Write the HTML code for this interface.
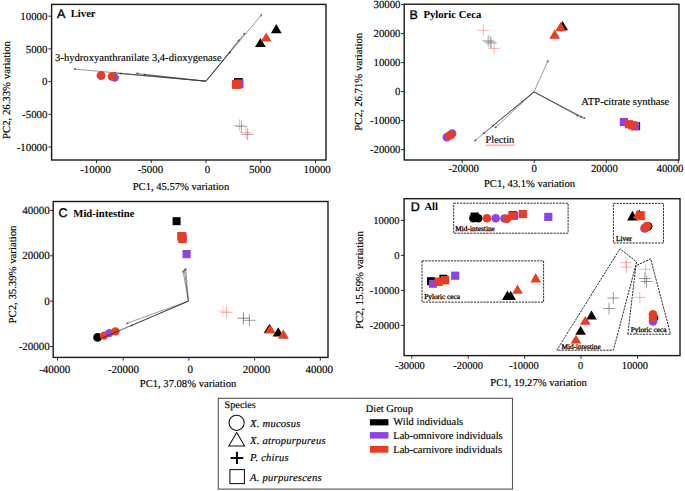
<!DOCTYPE html>
<html><head><meta charset="utf-8"><style>
html,body{margin:0;padding:0;background:#fff;width:685px;height:491px;overflow:hidden;font-family:"Liberation Serif",serif;}
svg{display:block} text{text-rendering:geometricPrecision;stroke:#000;stroke-width:0.15px}
</style></head><body>
<svg width="685" height="491" viewBox="0 0 685 491">
<rect width="685" height="491" fill="#fff"/>
<rect x="51.6" y="4.4" width="274.4" height="155.6" fill="none" stroke="#1a1a1a" stroke-width="1.4"/>
<line x1="48.4" y1="16.2" x2="51.6" y2="16.2" stroke="#1a1a1a" stroke-width="0.9"/>
<text x="47.50" y="19.80" font-family="'Liberation Serif', serif" font-size="10.9" text-anchor="end" font-weight="normal" font-style="normal" fill="#000" >10000</text>
<line x1="48.4" y1="48.900000000000006" x2="51.6" y2="48.900000000000006" stroke="#1a1a1a" stroke-width="0.9"/>
<text x="47.50" y="52.50" font-family="'Liberation Serif', serif" font-size="10.9" text-anchor="end" font-weight="normal" font-style="normal" fill="#000" >5000</text>
<line x1="48.4" y1="81.60000000000001" x2="51.6" y2="81.60000000000001" stroke="#1a1a1a" stroke-width="0.9"/>
<text x="47.50" y="85.20" font-family="'Liberation Serif', serif" font-size="10.9" text-anchor="end" font-weight="normal" font-style="normal" fill="#000" >0</text>
<line x1="48.4" y1="114.30000000000001" x2="51.6" y2="114.30000000000001" stroke="#1a1a1a" stroke-width="0.9"/>
<text x="47.50" y="117.90" font-family="'Liberation Serif', serif" font-size="10.9" text-anchor="end" font-weight="normal" font-style="normal" fill="#000" >-5000</text>
<line x1="48.4" y1="147.0" x2="51.6" y2="147.0" stroke="#1a1a1a" stroke-width="0.9"/>
<text x="47.50" y="150.60" font-family="'Liberation Serif', serif" font-size="10.9" text-anchor="end" font-weight="normal" font-style="normal" fill="#000" >-10000</text>
<line x1="96.5" y1="160.0" x2="96.5" y2="163.2" stroke="#1a1a1a" stroke-width="0.9"/>
<text x="95.60" y="172.80" font-family="'Liberation Serif', serif" font-size="10.9" text-anchor="middle" font-weight="normal" font-style="normal" fill="#000" >-10000</text>
<line x1="151.25" y1="160.0" x2="151.25" y2="163.2" stroke="#1a1a1a" stroke-width="0.9"/>
<text x="150.40" y="172.80" font-family="'Liberation Serif', serif" font-size="10.9" text-anchor="middle" font-weight="normal" font-style="normal" fill="#000" >-5000</text>
<line x1="206.0" y1="160.0" x2="206.0" y2="163.2" stroke="#1a1a1a" stroke-width="0.9"/>
<text x="207.40" y="172.80" font-family="'Liberation Serif', serif" font-size="10.9" text-anchor="middle" font-weight="normal" font-style="normal" fill="#000" >0</text>
<line x1="260.75" y1="160.0" x2="260.75" y2="163.2" stroke="#1a1a1a" stroke-width="0.9"/>
<text x="260.00" y="172.80" font-family="'Liberation Serif', serif" font-size="10.9" text-anchor="middle" font-weight="normal" font-style="normal" fill="#000" >5000</text>
<line x1="315.5" y1="160.0" x2="315.5" y2="163.2" stroke="#1a1a1a" stroke-width="0.9"/>
<text x="317.20" y="172.80" font-family="'Liberation Serif', serif" font-size="10.9" text-anchor="middle" font-weight="normal" font-style="normal" fill="#000" >10000</text>
<text x="180.95" y="190.30" font-family="'Liberation Serif', serif" font-size="10.6" text-anchor="middle" font-weight="normal" font-style="normal" fill="#000" >PC1, 45.57% variation</text>
<text x="0.00" y="0.00" font-family="'Liberation Serif', serif" font-size="10.75" text-anchor="middle" font-weight="normal" font-style="normal" fill="#000" transform="translate(9.7,90.0) rotate(-90)">PC2, 26.33% variation</text>
<rect x="404.2" y="4.2" width="274.8" height="155.8" fill="none" stroke="#1a1a1a" stroke-width="1.4"/>
<line x1="401.0" y1="4.6" x2="404.2" y2="4.6" stroke="#1a1a1a" stroke-width="0.9"/>
<text x="400.50" y="8.20" font-family="'Liberation Serif', serif" font-size="10.8" text-anchor="end" font-weight="normal" font-style="normal" fill="#000" >30000</text>
<line x1="401.0" y1="33.599999999999994" x2="404.2" y2="33.599999999999994" stroke="#1a1a1a" stroke-width="0.9"/>
<text x="400.50" y="37.20" font-family="'Liberation Serif', serif" font-size="10.8" text-anchor="end" font-weight="normal" font-style="normal" fill="#000" >20000</text>
<line x1="401.0" y1="62.599999999999994" x2="404.2" y2="62.599999999999994" stroke="#1a1a1a" stroke-width="0.9"/>
<text x="400.50" y="66.20" font-family="'Liberation Serif', serif" font-size="10.8" text-anchor="end" font-weight="normal" font-style="normal" fill="#000" >10000</text>
<line x1="401.0" y1="91.6" x2="404.2" y2="91.6" stroke="#1a1a1a" stroke-width="0.9"/>
<text x="400.50" y="95.20" font-family="'Liberation Serif', serif" font-size="10.8" text-anchor="end" font-weight="normal" font-style="normal" fill="#000" >0</text>
<line x1="401.0" y1="120.59999999999998" x2="404.2" y2="120.59999999999998" stroke="#1a1a1a" stroke-width="0.9"/>
<text x="400.50" y="124.20" font-family="'Liberation Serif', serif" font-size="10.8" text-anchor="end" font-weight="normal" font-style="normal" fill="#000" >-10000</text>
<line x1="401.0" y1="149.6" x2="404.2" y2="149.6" stroke="#1a1a1a" stroke-width="0.9"/>
<text x="400.50" y="153.20" font-family="'Liberation Serif', serif" font-size="10.8" text-anchor="end" font-weight="normal" font-style="normal" fill="#000" >-20000</text>
<line x1="462.2" y1="160.0" x2="462.2" y2="163.2" stroke="#1a1a1a" stroke-width="0.9"/>
<text x="463.70" y="172.30" font-family="'Liberation Serif', serif" font-size="10.8" text-anchor="middle" font-weight="normal" font-style="normal" fill="#000" >-20000</text>
<line x1="534.2" y1="160.0" x2="534.2" y2="163.2" stroke="#1a1a1a" stroke-width="0.9"/>
<text x="534.10" y="172.30" font-family="'Liberation Serif', serif" font-size="10.8" text-anchor="middle" font-weight="normal" font-style="normal" fill="#000" >0</text>
<line x1="606.2" y1="160.0" x2="606.2" y2="163.2" stroke="#1a1a1a" stroke-width="0.9"/>
<text x="604.40" y="172.30" font-family="'Liberation Serif', serif" font-size="10.8" text-anchor="middle" font-weight="normal" font-style="normal" fill="#000" >20000</text>
<line x1="678.2" y1="160.0" x2="678.2" y2="163.2" stroke="#1a1a1a" stroke-width="0.9"/>
<text x="670.00" y="172.30" font-family="'Liberation Serif', serif" font-size="10.8" text-anchor="middle" font-weight="normal" font-style="normal" fill="#000" >40000</text>
<text x="529.55" y="186.60" font-family="'Liberation Serif', serif" font-size="10.6" text-anchor="middle" font-weight="normal" font-style="normal" fill="#000" >PC1, 43.1% variation</text>
<text x="0.00" y="0.00" font-family="'Liberation Serif', serif" font-size="10.75" text-anchor="middle" font-weight="normal" font-style="normal" fill="#000" transform="translate(362.0,81.75) rotate(-90)">PC2, 26.71% variation</text>
<rect x="53.2" y="201.5" width="274.8" height="155.89999999999998" fill="none" stroke="#1a1a1a" stroke-width="1.4"/>
<line x1="50.0" y1="210.4" x2="53.2" y2="210.4" stroke="#1a1a1a" stroke-width="0.9"/>
<text x="49.80" y="214.00" font-family="'Liberation Serif', serif" font-size="11.0" text-anchor="end" font-weight="normal" font-style="normal" fill="#000" >40000</text>
<line x1="50.0" y1="255.8" x2="53.2" y2="255.8" stroke="#1a1a1a" stroke-width="0.9"/>
<text x="49.80" y="259.40" font-family="'Liberation Serif', serif" font-size="11.0" text-anchor="end" font-weight="normal" font-style="normal" fill="#000" >20000</text>
<line x1="50.0" y1="301.20000000000005" x2="53.2" y2="301.20000000000005" stroke="#1a1a1a" stroke-width="0.9"/>
<text x="49.80" y="304.80" font-family="'Liberation Serif', serif" font-size="11.0" text-anchor="end" font-weight="normal" font-style="normal" fill="#000" >0</text>
<line x1="50.0" y1="346.6" x2="53.2" y2="346.6" stroke="#1a1a1a" stroke-width="0.9"/>
<text x="49.80" y="350.20" font-family="'Liberation Serif', serif" font-size="11.0" text-anchor="end" font-weight="normal" font-style="normal" fill="#000" >-20000</text>
<line x1="57.5" y1="357.4" x2="57.5" y2="360.59999999999997" stroke="#1a1a1a" stroke-width="0.9"/>
<text x="54.75" y="373.30" font-family="'Liberation Serif', serif" font-size="11.0" text-anchor="middle" font-weight="normal" font-style="normal" fill="#000" >-40000</text>
<line x1="123.2" y1="357.4" x2="123.2" y2="360.59999999999997" stroke="#1a1a1a" stroke-width="0.9"/>
<text x="123.55" y="373.30" font-family="'Liberation Serif', serif" font-size="11.0" text-anchor="middle" font-weight="normal" font-style="normal" fill="#000" >-20000</text>
<line x1="188.9" y1="357.4" x2="188.9" y2="360.59999999999997" stroke="#1a1a1a" stroke-width="0.9"/>
<text x="190.20" y="373.30" font-family="'Liberation Serif', serif" font-size="11.0" text-anchor="middle" font-weight="normal" font-style="normal" fill="#000" >0</text>
<line x1="254.60000000000002" y1="357.4" x2="254.60000000000002" y2="360.59999999999997" stroke="#1a1a1a" stroke-width="0.9"/>
<text x="256.60" y="373.30" font-family="'Liberation Serif', serif" font-size="11.0" text-anchor="middle" font-weight="normal" font-style="normal" fill="#000" >20000</text>
<line x1="320.3" y1="357.4" x2="320.3" y2="360.59999999999997" stroke="#1a1a1a" stroke-width="0.9"/>
<text x="319.15" y="373.30" font-family="'Liberation Serif', serif" font-size="11.0" text-anchor="middle" font-weight="normal" font-style="normal" fill="#000" >40000</text>
<text x="188.05" y="387.30" font-family="'Liberation Serif', serif" font-size="10.6" text-anchor="middle" font-weight="normal" font-style="normal" fill="#000" >PC1, 37.08% variation</text>
<text x="0.00" y="0.00" font-family="'Liberation Serif', serif" font-size="10.75" text-anchor="middle" font-weight="normal" font-style="normal" fill="#000" transform="translate(15.7,274.55) rotate(-90)">PC2, 35.39% variation</text>
<rect x="404.1" y="198.7" width="275.9" height="156.90000000000003" fill="none" stroke="#1a1a1a" stroke-width="1.4"/>
<line x1="400.90000000000003" y1="220.4" x2="404.1" y2="220.4" stroke="#1a1a1a" stroke-width="0.9"/>
<text x="399.50" y="224.00" font-family="'Liberation Serif', serif" font-size="10.5" text-anchor="end" font-weight="normal" font-style="normal" fill="#000" >10000</text>
<line x1="400.90000000000003" y1="255.4" x2="404.1" y2="255.4" stroke="#1a1a1a" stroke-width="0.9"/>
<text x="399.50" y="259.00" font-family="'Liberation Serif', serif" font-size="10.5" text-anchor="end" font-weight="normal" font-style="normal" fill="#000" >0</text>
<line x1="400.90000000000003" y1="290.4" x2="404.1" y2="290.4" stroke="#1a1a1a" stroke-width="0.9"/>
<text x="399.50" y="294.00" font-family="'Liberation Serif', serif" font-size="10.5" text-anchor="end" font-weight="normal" font-style="normal" fill="#000" >-10000</text>
<line x1="400.90000000000003" y1="325.4" x2="404.1" y2="325.4" stroke="#1a1a1a" stroke-width="0.9"/>
<text x="399.50" y="329.00" font-family="'Liberation Serif', serif" font-size="10.5" text-anchor="end" font-weight="normal" font-style="normal" fill="#000" >-20000</text>
<line x1="411.8" y1="355.6" x2="411.8" y2="358.8" stroke="#1a1a1a" stroke-width="0.9"/>
<text x="410.00" y="368.50" font-family="'Liberation Serif', serif" font-size="10.5" text-anchor="middle" font-weight="normal" font-style="normal" fill="#000" >-30000</text>
<line x1="468.225" y1="355.6" x2="468.225" y2="358.8" stroke="#1a1a1a" stroke-width="0.9"/>
<text x="468.10" y="368.50" font-family="'Liberation Serif', serif" font-size="10.5" text-anchor="middle" font-weight="normal" font-style="normal" fill="#000" >-20000</text>
<line x1="524.65" y1="355.6" x2="524.65" y2="358.8" stroke="#1a1a1a" stroke-width="0.9"/>
<text x="524.00" y="368.50" font-family="'Liberation Serif', serif" font-size="10.5" text-anchor="middle" font-weight="normal" font-style="normal" fill="#000" >-10000</text>
<line x1="581.075" y1="355.6" x2="581.075" y2="358.8" stroke="#1a1a1a" stroke-width="0.9"/>
<text x="580.60" y="368.50" font-family="'Liberation Serif', serif" font-size="10.5" text-anchor="middle" font-weight="normal" font-style="normal" fill="#000" >0</text>
<line x1="637.5" y1="355.6" x2="637.5" y2="358.8" stroke="#1a1a1a" stroke-width="0.9"/>
<text x="634.80" y="368.50" font-family="'Liberation Serif', serif" font-size="10.5" text-anchor="middle" font-weight="normal" font-style="normal" fill="#000" >10000</text>
<text x="538.60" y="386.30" font-family="'Liberation Serif', serif" font-size="10.6" text-anchor="middle" font-weight="normal" font-style="normal" fill="#000" >PC1, 19.27% variation</text>
<text x="0.00" y="0.00" font-family="'Liberation Serif', serif" font-size="10.75" text-anchor="middle" font-weight="normal" font-style="normal" fill="#000" transform="translate(363.0,280.1) rotate(-90)">PC2, 15.59% variation</text>
<text x="57.00" y="17.80" font-family="'Liberation Sans', sans-serif" font-size="12.5" text-anchor="start" font-weight="normal" font-style="normal" fill="#000" style="stroke-width:0.38px">A</text>
<text x="70.70" y="17.10" font-family="'Liberation Serif', serif" font-size="10.7" text-anchor="start" font-weight="bold" font-style="normal" fill="#000" style="stroke:none">Liver</text>
<text x="409.50" y="19.00" font-family="'Liberation Sans', sans-serif" font-size="12.5" text-anchor="start" font-weight="normal" font-style="normal" fill="#000" style="stroke-width:0.38px">B</text>
<text x="423.40" y="18.30" font-family="'Liberation Serif', serif" font-size="10.7" text-anchor="start" font-weight="bold" font-style="normal" fill="#000" style="stroke:none">Pyloric Ceca</text>
<text x="58.40" y="217.40" font-family="'Liberation Sans', sans-serif" font-size="12.5" text-anchor="start" font-weight="normal" font-style="normal" fill="#000" style="stroke-width:0.38px">C</text>
<text x="73.30" y="216.70" font-family="'Liberation Serif', serif" font-size="10.7" text-anchor="start" font-weight="bold" font-style="normal" fill="#000" style="stroke:none">Mid-intestine</text>
<text x="410.70" y="211.00" font-family="'Liberation Sans', sans-serif" font-size="12.5" text-anchor="start" font-weight="normal" font-style="normal" fill="#000" style="stroke-width:0.38px">D</text>
<text x="424.40" y="210.30" font-family="'Liberation Serif', serif" font-size="10.7" text-anchor="start" font-weight="bold" font-style="normal" fill="#000" style="stroke:none">All</text>
<line x1="206.0" y1="81.2" x2="74" y2="69" stroke="#333" stroke-width="0.5"/>
<line x1="74" y1="69" x2="75.88" y2="70.14" stroke="#222" stroke-width="0.5"/>
<line x1="74" y1="69" x2="76.06" y2="68.23" stroke="#222" stroke-width="0.5"/>
<line x1="206.0" y1="81.2" x2="113.8" y2="72.8" stroke="#333" stroke-width="0.5"/>
<line x1="113.8" y1="72.8" x2="115.69" y2="73.93" stroke="#222" stroke-width="0.5"/>
<line x1="113.8" y1="72.8" x2="115.86" y2="72.03" stroke="#222" stroke-width="0.5"/>
<line x1="206.0" y1="81.2" x2="119.5" y2="73.5" stroke="#333" stroke-width="0.5"/>
<line x1="119.5" y1="73.5" x2="121.39" y2="74.63" stroke="#222" stroke-width="0.5"/>
<line x1="119.5" y1="73.5" x2="121.56" y2="72.72" stroke="#222" stroke-width="0.5"/>
<line x1="206.0" y1="81.2" x2="136.4" y2="73.3" stroke="#333" stroke-width="0.5"/>
<line x1="136.4" y1="73.3" x2="138.26" y2="74.47" stroke="#222" stroke-width="0.5"/>
<line x1="136.4" y1="73.3" x2="138.48" y2="72.57" stroke="#222" stroke-width="0.5"/>
<line x1="206.0" y1="81.2" x2="143.7" y2="74.6" stroke="#333" stroke-width="0.5"/>
<line x1="143.7" y1="74.6" x2="145.57" y2="75.76" stroke="#222" stroke-width="0.5"/>
<line x1="143.7" y1="74.6" x2="145.77" y2="73.86" stroke="#222" stroke-width="0.5"/>
<line x1="206.0" y1="81.2" x2="261.8" y2="14.5" stroke="#333" stroke-width="0.5"/>
<line x1="261.8" y1="14.5" x2="259.79" y2="15.41" stroke="#222" stroke-width="0.5"/>
<line x1="261.8" y1="14.5" x2="261.26" y2="16.63" stroke="#222" stroke-width="0.5"/>
<line x1="206.0" y1="81.2" x2="239.5" y2="39.6" stroke="#333" stroke-width="0.5"/>
<line x1="239.5" y1="39.6" x2="237.51" y2="40.54" stroke="#222" stroke-width="0.5"/>
<line x1="239.5" y1="39.6" x2="239.00" y2="41.74" stroke="#222" stroke-width="0.5"/>
<line x1="206.0" y1="81.2" x2="230.3" y2="51.7" stroke="#333" stroke-width="0.5"/>
<line x1="230.3" y1="51.7" x2="228.30" y2="52.62" stroke="#222" stroke-width="0.5"/>
<line x1="230.3" y1="51.7" x2="229.78" y2="53.84" stroke="#222" stroke-width="0.5"/>
<line x1="206.0" y1="81.2" x2="245" y2="33" stroke="#333" stroke-width="0.5"/>
<line x1="245" y1="33" x2="243.01" y2="33.94" stroke="#222" stroke-width="0.5"/>
<line x1="245" y1="33" x2="244.50" y2="35.14" stroke="#222" stroke-width="0.5"/>
<text x="55.10" y="61.00" font-family="'Liberation Serif', serif" font-size="10.6" text-anchor="start" font-weight="normal" font-style="normal" fill="#000" >3-hydroxyanthranilate 3,4-dioxygenase</text>
<circle cx="100.8" cy="75.5" r="4.25" fill="#8c44e4"/>
<circle cx="101.3" cy="75.5" r="4.25" fill="#e83d25"/>
<circle cx="114.7" cy="77.5" r="4.25" fill="#8c44e4"/>
<circle cx="111.9" cy="76.6" r="4.25" fill="#e83d25"/>
<rect x="234.00" y="78.10" width="8.8" height="8.8" fill="#000000"/>
<rect x="234.90" y="79.50" width="8.6" height="8.6" fill="#8c44e4"/>
<rect x="231.95" y="80.00" width="8.9" height="8.9" fill="#e83d25"/>
<rect x="233.50" y="79.80" width="8.6" height="8.6" fill="#e83d25"/>
<polygon points="260.40,37.90 255.00,47.10 265.80,47.10" fill="#000000"/>
<polygon points="276.30,24.00 270.90,33.20 281.70,33.20" fill="#000000"/>
<polygon points="266.20,32.40 260.80,41.60 271.60,41.60" fill="#e83d25"/>
<path d="M233.40 125.30H245.20M239.30 119.40V131.20" stroke="#f07060" stroke-width="1.0" opacity="0.5" fill="none"/>
<path d="M235.50 126.50H247.30M241.40 120.60V132.40" stroke="#555" stroke-width="1.0" opacity="0.5" fill="none"/>
<path d="M240.10 132.70H251.90M246.00 126.80V138.60" stroke="#f07060" stroke-width="1.0" opacity="0.5" fill="none"/>
<path d="M241.80 134.40H253.60M247.70 128.50V140.30" stroke="#555" stroke-width="1.0" opacity="0.5" fill="none"/>
<line x1="534.0" y1="91.9" x2="548.2" y2="60.3" stroke="#333" stroke-width="0.5"/>
<line x1="548.2" y1="60.3" x2="546.52" y2="61.71" stroke="#222" stroke-width="0.5"/>
<line x1="548.2" y1="60.3" x2="548.26" y2="62.50" stroke="#222" stroke-width="0.5"/>
<line x1="534.0" y1="91.9" x2="585.2" y2="118.5" stroke="#333" stroke-width="0.5"/>
<line x1="585.2" y1="118.5" x2="583.88" y2="116.74" stroke="#222" stroke-width="0.5"/>
<line x1="585.2" y1="118.5" x2="583.00" y2="118.44" stroke="#222" stroke-width="0.5"/>
<line x1="534.0" y1="91.9" x2="578.3" y2="116.1" stroke="#333" stroke-width="0.5"/>
<line x1="578.3" y1="116.1" x2="577.02" y2="114.31" stroke="#222" stroke-width="0.5"/>
<line x1="578.3" y1="116.1" x2="576.10" y2="115.99" stroke="#222" stroke-width="0.5"/>
<line x1="534.0" y1="91.9" x2="582" y2="117.5" stroke="#333" stroke-width="0.5"/>
<line x1="582" y1="117.5" x2="580.70" y2="115.72" stroke="#222" stroke-width="0.5"/>
<line x1="582" y1="117.5" x2="579.80" y2="117.41" stroke="#222" stroke-width="0.5"/>
<line x1="534.0" y1="91.9" x2="474.5" y2="141.1" stroke="#333" stroke-width="0.5"/>
<line x1="474.5" y1="141.1" x2="476.64" y2="140.58" stroke="#222" stroke-width="0.5"/>
<line x1="474.5" y1="141.1" x2="475.42" y2="139.10" stroke="#222" stroke-width="0.5"/>
<line x1="534.0" y1="91.9" x2="483.1" y2="133.8" stroke="#333" stroke-width="0.5"/>
<line x1="483.1" y1="133.8" x2="485.24" y2="133.28" stroke="#222" stroke-width="0.5"/>
<line x1="483.1" y1="133.8" x2="484.02" y2="131.80" stroke="#222" stroke-width="0.5"/>
<line x1="534.0" y1="91.9" x2="492.2" y2="126.3" stroke="#333" stroke-width="0.5"/>
<line x1="492.2" y1="126.3" x2="494.34" y2="125.78" stroke="#222" stroke-width="0.5"/>
<line x1="492.2" y1="126.3" x2="493.12" y2="124.30" stroke="#222" stroke-width="0.5"/>
<line x1="534.0" y1="91.9" x2="495.0" y2="127.9" stroke="#333" stroke-width="0.5"/>
<line x1="495.0" y1="127.9" x2="497.10" y2="127.26" stroke="#222" stroke-width="0.5"/>
<line x1="495.0" y1="127.9" x2="495.81" y2="125.85" stroke="#222" stroke-width="0.5"/>
<text x="581.30" y="104.60" font-family="'Liberation Serif', serif" font-size="10.6" text-anchor="start" font-weight="normal" font-style="normal" fill="#000" >ATP-citrate synthase</text>
<text x="485.60" y="143.30" font-family="'Liberation Serif', serif" font-size="10.3" text-anchor="start" font-weight="normal" font-style="normal" fill="#000" >Plectin</text>
<path d="M485.8 145.6 l1 -0.8 l1 0.8 l1 -0.8 l1 0.8 l1 -0.8 l1 0.8 l1 -0.8 l1 0.8 l1 -0.8 l1 0.8 l1 -0.8 l1 0.8 l1 -0.8 l1 0.8 l1 -0.8 l1 0.8 l1 -0.8 l1 0.8 l1 -0.8 l1 0.8 l1 -0.8 l1 0.8 l1 -0.8 l1 0.8 l1 -0.8 l1 0.8 l1 -0.8 l1 0.8 l1 -0.8" stroke="#e0302a" stroke-width="0.6" fill="none"/>
<circle cx="446.8" cy="137.2" r="4.25" fill="#8c44e4"/>
<circle cx="452.2" cy="133.5" r="4.25" fill="#8c44e4"/>
<circle cx="449.3" cy="135.5" r="4.25" fill="#e83d25"/>
<circle cx="451.0" cy="134.9" r="4.25" fill="#e83d25"/>
<rect x="619.80" y="117.90" width="8.2" height="8.2" fill="#8c44e4"/>
<rect x="631.90" y="121.90" width="8.2" height="8.2" fill="#000000"/>
<rect x="631.00" y="122.00" width="8.4" height="8.4" fill="#8c44e4"/>
<rect x="624.80" y="120.10" width="8.2" height="8.2" fill="#e83d25"/>
<rect x="628.30" y="121.20" width="8.2" height="8.2" fill="#e83d25"/>
<polygon points="562.60,21.10 557.20,30.30 568.00,30.30" fill="#000000"/>
<polygon points="560.70,22.10 555.30,31.30 566.10,31.30" fill="#e83d25"/>
<polygon points="554.70,29.60 549.30,38.80 560.10,38.80" fill="#e83d25"/>
<path d="M477.50 30.30H489.30M483.40 24.40V36.20" stroke="#f07060" stroke-width="1.0" opacity="0.5" fill="none"/>
<path d="M482.30 40.80H494.10M488.20 34.90V46.70" stroke="#555" stroke-width="1.0" opacity="0.5" fill="none"/>
<path d="M484.40 42.00H496.20M490.30 36.10V47.90" stroke="#555" stroke-width="1.0" opacity="0.5" fill="none"/>
<path d="M485.40 43.20H497.20M491.30 37.30V49.10" stroke="#555" stroke-width="1.0" opacity="0.35" fill="none"/>
<path d="M488.30 48.40H500.10M494.20 42.50V54.30" stroke="#f07060" stroke-width="1.0" opacity="0.5" fill="none"/>
<line x1="188.4" y1="301.1" x2="185.6" y2="268.3" stroke="#333" stroke-width="0.5"/>
<line x1="185.6" y1="268.3" x2="184.82" y2="270.36" stroke="#222" stroke-width="0.5"/>
<line x1="185.6" y1="268.3" x2="186.72" y2="270.19" stroke="#222" stroke-width="0.5"/>
<line x1="188.4" y1="301.1" x2="183.0" y2="270.7" stroke="#333" stroke-width="0.5"/>
<line x1="183.0" y1="270.7" x2="182.40" y2="272.82" stroke="#222" stroke-width="0.5"/>
<line x1="183.0" y1="270.7" x2="184.29" y2="272.48" stroke="#222" stroke-width="0.5"/>
<line x1="188.4" y1="301.1" x2="184.4" y2="269.3" stroke="#333" stroke-width="0.5"/>
<line x1="184.4" y1="269.3" x2="183.70" y2="271.38" stroke="#222" stroke-width="0.5"/>
<line x1="184.4" y1="269.3" x2="185.60" y2="271.15" stroke="#222" stroke-width="0.5"/>
<line x1="188.4" y1="301.1" x2="126.4" y2="323.5" stroke="#333" stroke-width="0.5"/>
<line x1="126.4" y1="323.5" x2="128.59" y2="323.73" stroke="#222" stroke-width="0.5"/>
<line x1="126.4" y1="323.5" x2="127.94" y2="321.93" stroke="#222" stroke-width="0.5"/>
<line x1="188.4" y1="301.1" x2="130.7" y2="325.9" stroke="#333" stroke-width="0.5"/>
<line x1="130.7" y1="325.9" x2="132.90" y2="326.00" stroke="#222" stroke-width="0.5"/>
<line x1="130.7" y1="325.9" x2="132.14" y2="324.24" stroke="#222" stroke-width="0.5"/>
<rect x="172.60" y="217.20" width="8.0" height="8.0" fill="#000000"/>
<rect x="178.10" y="232.40" width="8.4" height="8.4" fill="#8c44e4"/>
<rect x="177.15" y="231.95" width="8.5" height="8.5" fill="#e83d25"/>
<rect x="178.25" y="234.65" width="8.5" height="8.5" fill="#e83d25"/>
<rect x="182.50" y="250.00" width="8.2" height="8.2" fill="#8c44e4"/>
<circle cx="97.6" cy="337.4" r="4.4" fill="#000000"/>
<circle cx="104.1" cy="335.6" r="4.2" fill="#e83d25"/>
<circle cx="109.3" cy="333.1" r="4.2" fill="#8c44e4"/>
<circle cx="115.4" cy="331.4" r="4.2" fill="#e83d25"/>
<line x1="188.4" y1="301.1" x2="102.6" y2="337.8" stroke="#222" stroke-width="0.7"/>
<path d="M217.00 311.00H228.80M222.90 305.10V316.90" stroke="#f07060" stroke-width="1.0" opacity="0.3" fill="none"/>
<path d="M220.70 312.30H232.50M226.60 306.40V318.20" stroke="#f07060" stroke-width="1.0" opacity="0.55" fill="none"/>
<path d="M237.50 318.20H249.30M243.40 312.30V324.10" stroke="#555" stroke-width="1.0" opacity="0.7" fill="none"/>
<path d="M243.50 320.30H255.30M249.40 314.40V326.20" stroke="#555" stroke-width="1.0" opacity="0.6" fill="none"/>
<polygon points="269.30,323.90 263.80,333.10 274.80,333.10" fill="#000000"/>
<polygon points="270.30,324.40 264.80,333.60 275.80,333.60" fill="#e83d25"/>
<polygon points="278.20,327.30 272.70,336.50 283.70,336.50" fill="#000000"/>
<polygon points="283.40,329.40 277.90,338.70 288.90,338.70" fill="#e83d25"/>
<rect x="453.7" y="203.2" width="114.4" height="30" stroke="#111" stroke-width="0.9" stroke-dasharray="2.2 1" fill="none"/>
<rect x="613.4" y="203.4" width="50.1" height="39.6" stroke="#111" stroke-width="0.9" stroke-dasharray="2.2 1" fill="none"/>
<rect x="422" y="260.9" width="121.6" height="41.2" stroke="#111" stroke-width="0.9" stroke-dasharray="2.2 1" fill="none"/>
<polygon points="556.8,350.2 620,248.7 636.6,262 613.4,350.2" stroke="#111" stroke-width="0.9" stroke-dasharray="2.2 1" fill="none"/>
<polygon points="627.8,334.2 635.9,265.7 650.6,258.9 670.6,334.2" stroke="#111" stroke-width="0.9" stroke-dasharray="2.2 1" fill="none"/>
<text x="455.30" y="231.40" font-family="'Liberation Serif', serif" font-size="7.35" text-anchor="start" font-weight="normal" font-style="normal" fill="#000" style="stroke-width:0.28px">Mid-intestine</text>
<text x="616.00" y="240.50" font-family="'Liberation Serif', serif" font-size="7.4" text-anchor="start" font-weight="normal" font-style="normal" fill="#000" style="stroke-width:0.28px">Liver</text>
<text x="424.20" y="299.30" font-family="'Liberation Serif', serif" font-size="7.3" text-anchor="start" font-weight="normal" font-style="normal" fill="#000" style="stroke-width:0.28px">Pyloric ceca</text>
<text x="561.40" y="349.00" font-family="'Liberation Serif', serif" font-size="7.3" text-anchor="start" font-weight="normal" font-style="normal" fill="#000" style="stroke-width:0.28px">Mid-intestine</text>
<text x="630.70" y="332.00" font-family="'Liberation Serif', serif" font-size="7.3" text-anchor="start" font-weight="normal" font-style="normal" fill="#000" style="stroke-width:0.28px">Pyloric ceca</text>
<rect x="470.50" y="212.50" width="8.2" height="8.2" fill="#000000"/>
<circle cx="473.4" cy="218.3" r="4.3" fill="#000000"/>
<circle cx="478.2" cy="218.3" r="4.3" fill="#000000"/>
<circle cx="487.0" cy="218.3" r="4.3" fill="#e83d25"/>
<circle cx="495.7" cy="218.3" r="4.3" fill="#8c44e4"/>
<circle cx="504.5" cy="218.5" r="4.3" fill="#8c44e4"/>
<circle cx="507.0" cy="218.8" r="4.3" fill="#e83d25"/>
<rect x="508.90" y="211.10" width="8.0" height="8.0" fill="#000000"/>
<rect x="510.20" y="211.90" width="8.0" height="8.0" fill="#8c44e4"/>
<rect x="508.40" y="211.50" width="8.0" height="8.0" fill="#e83d25"/>
<rect x="518.70" y="209.90" width="8.2" height="8.2" fill="#e83d25"/>
<rect x="544.20" y="212.80" width="8.2" height="8.2" fill="#8c44e4"/>
<polygon points="639.30,209.60 634.10,218.60 644.50,218.60" fill="#000000"/>
<polygon points="632.50,210.80 627.10,220.40 637.90,220.40" fill="#000000"/>
<polygon points="638.00,209.50 632.80,218.50 643.20,218.50" fill="#e83d25"/>
<rect x="635.80" y="211.20" width="9.0" height="9.0" fill="#e83d25"/>
<path d="M640.60 216.00H650.60M645.60 211.00V221.00" stroke="#f07060" stroke-width="1.0" opacity="0.3" fill="none"/>
<circle cx="648.0" cy="226.3" r="4.4" fill="#000000"/>
<circle cx="644.6" cy="228.4" r="4.4" fill="#8c44e4"/>
<circle cx="645.3" cy="227.8" r="4.5" fill="#e83d25"/>
<circle cx="647.0" cy="226.2" r="4.4" fill="#e83d25"/>
<rect x="427.00" y="277.20" width="8.0" height="8.0" fill="#000000"/>
<rect x="429.00" y="279.80" width="8.0" height="8.0" fill="#8c44e4"/>
<rect x="439.40" y="274.70" width="8.0" height="8.0" fill="#000000"/>
<rect x="434.40" y="277.50" width="8.4" height="8.4" fill="#e83d25"/>
<rect x="440.80" y="276.00" width="8.4" height="8.4" fill="#e83d25"/>
<rect x="451.10" y="271.60" width="8.2" height="8.2" fill="#8c44e4"/>
<polygon points="507.40,290.50 502.10,300.00 512.70,300.00" fill="#000000"/>
<polygon points="510.70,290.80 505.40,300.00 516.00,300.00" fill="#000000"/>
<polygon points="517.50,284.60 512.20,293.80 522.80,293.80" fill="#e83d25"/>
<polygon points="535.70,273.00 530.40,282.40 541.00,282.40" fill="#e83d25"/>
<polygon points="591.50,310.50 586.30,319.50 596.70,319.50" fill="#000000"/>
<polygon points="585.30,316.00 579.90,324.70 590.70,324.70" fill="#e83d25"/>
<polygon points="580.60,325.70 575.30,334.80 585.90,334.80" fill="#000000"/>
<polygon points="576.00,334.80 570.60,343.40 581.40,343.40" fill="#e83d25"/>
<path d="M607.40 298.00H619.20M613.30 292.10V303.90" stroke="#555" stroke-width="1.0" opacity="0.6" fill="none"/>
<path d="M603.10 308.50H614.90M609.00 302.60V314.40" stroke="#555" stroke-width="1.0" opacity="0.6" fill="none"/>
<path d="M620.10 262.60H631.90M626.00 256.70V268.50" stroke="#f07060" stroke-width="1.0" opacity="0.5" fill="none"/>
<path d="M620.60 267.10H632.40M626.50 261.20V273.00" stroke="#f07060" stroke-width="1.0" opacity="0.5" fill="none"/>
<path d="M639.80 269.30H651.60M645.70 263.40V275.20" stroke="#f07060" stroke-width="1.0" opacity="0.45" fill="none"/>
<path d="M638.90 278.50H650.70M644.80 272.60V284.40" stroke="#555" stroke-width="1.0" opacity="0.6" fill="none"/>
<path d="M640.70 281.50H652.50M646.60 275.60V287.40" stroke="#555" stroke-width="1.0" opacity="0.6" fill="none"/>
<path d="M633.90 297.40H645.70M639.80 291.50V303.30" stroke="#f07060" stroke-width="1.0" opacity="0.5" fill="none"/>
<circle cx="654.0" cy="318.0" r="4.3" fill="#000000"/>
<circle cx="653.0" cy="321.4" r="4.3" fill="#8c44e4"/>
<circle cx="653.0" cy="317.8" r="4.3" fill="#e83d25"/>
<circle cx="653.0" cy="314.2" r="4.3" fill="#e83d25"/>
<rect x="218.3" y="398.3" width="294.2" height="90.8" fill="none" stroke="#555" stroke-width="1.1"/>
<text x="224.60" y="407.80" font-family="'Liberation Serif', serif" font-size="10.2" text-anchor="start" font-weight="normal" font-style="normal" fill="#000" >Species</text>
<circle cx="236.6" cy="422.8" r="7.6" fill="none" stroke="#111" stroke-width="1.05"/>
<polygon points="236.7,432.6 228.8,446.0 244.6,446.0" fill="none" stroke="#111" stroke-width="1.05"/>
<path d="M230.6 457.9 H243.3 M236.95 451.8 V464.1" stroke="#000" stroke-width="2"/>
<rect x="229.9" y="469.6" width="14.5" height="14.0" fill="none" stroke="#111" stroke-width="1.05"/>
<text x="250.10" y="427.00" font-family="'Liberation Serif', serif" font-size="10.6" text-anchor="start" font-weight="normal" font-style="italic" fill="#000" letter-spacing="0.22">X. mucosus</text>
<text x="250.10" y="444.00" font-family="'Liberation Serif', serif" font-size="10.6" text-anchor="start" font-weight="normal" font-style="italic" fill="#000" letter-spacing="0.22">X. atropurpureus</text>
<text x="250.10" y="461.00" font-family="'Liberation Serif', serif" font-size="10.6" text-anchor="start" font-weight="normal" font-style="italic" fill="#000" letter-spacing="0.22">P. chirus</text>
<text x="250.10" y="480.60" font-family="'Liberation Serif', serif" font-size="10.6" text-anchor="start" font-weight="normal" font-style="italic" fill="#000" letter-spacing="0.22">A. purpurescens</text>
<text x="365.80" y="411.60" font-family="'Liberation Serif', serif" font-size="10.4" text-anchor="start" font-weight="normal" font-style="normal" fill="#000" >Diet Group</text>
<rect x="369.9" y="419.2" width="18.5" height="6.2" fill="#000000"/>
<rect x="369.9" y="432.1" width="18.5" height="6.5" fill="#8c44e4"/>
<rect x="369.9" y="445.9" width="18.5" height="6.8" fill="#e83d25"/>
<text x="393.30" y="425.40" font-family="'Liberation Serif', serif" font-size="10.5" text-anchor="start" font-weight="normal" font-style="normal" fill="#000" >Wild individuals</text>
<text x="393.30" y="438.90" font-family="'Liberation Serif', serif" font-size="10.5" text-anchor="start" font-weight="normal" font-style="normal" fill="#000" >Lab-omnivore individuals</text>
<text x="393.30" y="452.70" font-family="'Liberation Serif', serif" font-size="10.5" text-anchor="start" font-weight="normal" font-style="normal" fill="#000" >Lab-carnivore individuals</text>
</svg>
</body></html>
